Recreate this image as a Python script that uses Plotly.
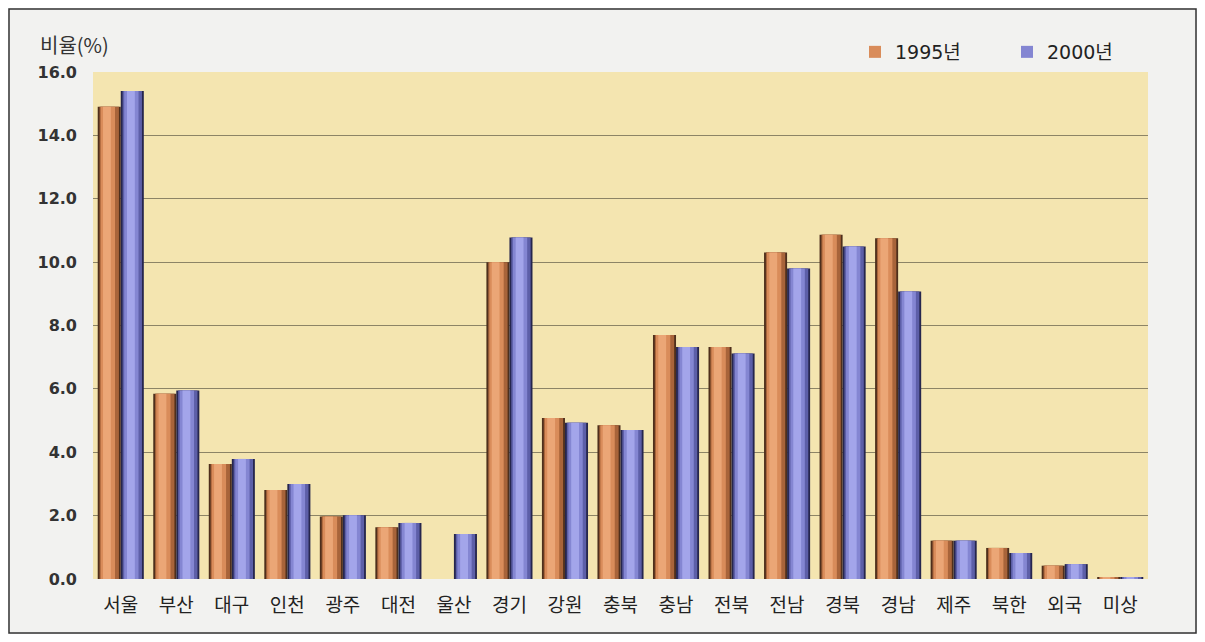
import plotly.graph_objects as go

categories = ["서울", "부산", "대구", "인천", "광주", "대전", "울산", "경기", "강원", "충북",
              "충남", "전북", "전남", "경북", "경남", "제주", "북한", "외국", "미상"]
values_1995 = [14.9, 5.85, 3.63, 2.81, 1.97, 1.63, None, 10.0, 5.08, 4.85,
               7.7, 7.32, 10.3, 10.86, 10.75, 1.21, 0.98, 0.42, 0.05]
values_2000 = [15.4, 5.95, 3.79, 3.0, 2.01, 1.77, 1.42, 10.78, 4.93, 4.7,
               7.32, 7.12, 9.8, 10.49, 9.07, 1.21, 0.82, 0.47, 0.05]
series_names = ["1995년", "2000년"]
y_ticks = [0, 2, 4, 6, 8, 10, 12, 14, 16]
y_tick_labels = ["0.0", "2.0", "4.0", "6.0", "8.0", "10.0", "12.0", "14.0", "16.0"]

# shading layers (width fraction, left shift fraction, color) for a cylindrical look
shades = {
    "1995년": [(1.00, 0.00, "#4e2f1c"), (0.84, 0.00, "#a8643a"), (0.62, -0.06, "#d98c5a"),
              (0.34, -0.10, "#eba676")],
    "2000년": [(1.00, 0.00, "#26264e"), (0.84, 0.00, "#5d5fa8"), (0.62, -0.04, "#8486d2"),
              (0.34, -0.06, "#a3a5ea")],
}
legend_ids = {"1995년": "legend", "2000년": "legend2"}

bar_w = 0.415
centers = {"1995년": -bar_w / 2, "2000년": bar_w / 2}
data = {"1995년": values_1995, "2000년": values_2000}

fig = go.Figure()
for name in series_names:
    for i, (wf, sh, col) in enumerate(shades[name]):
        w = bar_w * wf
        c = centers[name] + sh * bar_w
        fig.add_trace(go.Bar(
            x=categories, y=data[name], name=name,
            width=w, offset=c - w / 2,
            marker=dict(color=col, line=dict(width=0)),
            showlegend=(i == 2), legendgroup=name, legend=legend_ids[name],
            hoverinfo="skip" if i != 0 else None,
        ))

W, H = 1189, 626
L, T = 85, 64
pw, ph = 1055, 507
R, B = W - L - pw, H - T - ph

def px(x):
    return (x - 8 - L) / pw

def py(y):
    return (H - B - (y - 8)) / ph

legend_font = dict(size=19, family="DejaVu Sans, Noto Sans CJK KR", color="#222")
legend_common = dict(orientation="h", xanchor="left", yanchor="middle", y=py(52),
                     font=legend_font, bgcolor="rgba(0,0,0,0)", itemwidth=30)

fig.update_layout(
    width=W, height=H,
    margin=dict(l=L, r=R, t=T, b=B, pad=0, autoexpand=False),
    paper_bgcolor="#f2f2f0",
    plot_bgcolor="#f4e5b0",
    barmode="overlay",
    font=dict(family="DejaVu Sans, Noto Sans CJK KR, sans-serif", color="#222"),
    legend=dict(x=px(855), **legend_common),
    legend2=dict(x=px(1007), **legend_common),
    showlegend=True,
    xaxis=dict(showline=False, ticks="", showgrid=False, range=[-0.5, 18.5],
               tickfont=dict(size=19, family="Noto Sans CJK KR", color="#222"),
               ticklabelstandoff=13),
    yaxis=dict(range=[0, 16], tickvals=y_ticks, ticktext=y_tick_labels,
               tickfont=dict(size=16, family="DejaVu Sans", color="#333", weight="bold"),
               showgrid=True, gridcolor="#8c8466", gridwidth=1, zeroline=False,
               ticks="", ticklabelstandoff=15),
    annotations=[dict(text="비율(%)", xref="paper", yref="paper", x=px(38), y=py(45),
                      xanchor="left", yanchor="middle", showarrow=False,
                      font=dict(size=20, family="Noto Sans CJK KR", color="#333"))],
    shapes=[dict(type="rect", xref="paper", yref="paper",
                 x0=px(9), x1=px(1196), y0=py(633), y1=py(9),
                 line=dict(color="#333", width=1.5), fillcolor="rgba(0,0,0,0)", layer="below")],
)

fig.write_html("out.html")
